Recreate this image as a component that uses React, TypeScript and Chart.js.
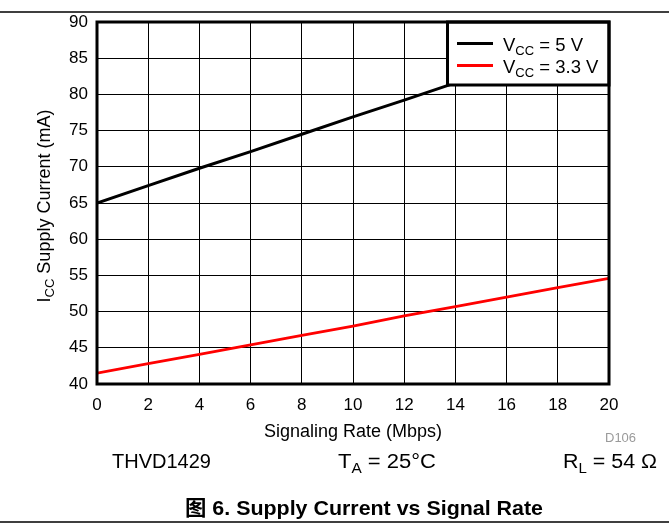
import React, { useEffect, useRef } from "react";
import { Chart, registerables } from "chart.js";
Chart.register(...registerables);

// ---- data ----
const rates = [0, 2, 4, 6, 8, 10, 12, 14, 16, 18, 20];
const vcc5 = [65.0, 67.4, 69.8, 72.1, 74.5, 76.9, 79.2, 81.6, 83.9, 86.2, 88.6];
const vcc33 = [41.5, 42.8, 44.1, 45.4, 46.7, 48.0, 49.4, 50.7, 52.0, 53.3, 54.6];
const xTicks = [0, 2, 4, 6, 8, 10, 12, 14, 16, 18, 20];
const yTicks = [40, 45, 50, 55, 60, 65, 70, 75, 80, 85, 90];
const seriesLabels = ["VCC = 5 V", "VCC = 3.3 V"];

const FONT = '"Liberation Sans", Arial, "Noto Sans CJK SC", sans-serif';

type Seg = { t: string; sub?: boolean };

function fontFor(size: number, sub: boolean, bold: boolean) {
  const s = sub ? Math.round(size * 0.72) : size;
  return `${bold ? "bold " : ""}${s}px ${FONT}`;
}

function richWidth(ctx: CanvasRenderingContext2D, segs: Seg[], size: number, bold: boolean) {
  let w = 0;
  for (const s of segs) {
    ctx.font = fontFor(size, !!s.sub, bold);
    w += ctx.measureText(s.t).width;
  }
  return w;
}

function drawRich(
  ctx: CanvasRenderingContext2D,
  segs: Seg[],
  x: number,
  y: number,
  size: number,
  opts: { bold?: boolean; align?: "left" | "center"; fit?: number; color?: string } = {}
) {
  const bold = !!opts.bold;
  ctx.save();
  const w = richWidth(ctx, segs, size, bold);
  const sx = opts.fit ? opts.fit / w : 1;
  ctx.translate(x, y);
  ctx.scale(sx, 1);
  ctx.fillStyle = opts.color || "#000";
  ctx.textBaseline = "alphabetic";
  ctx.textAlign = "left";
  let cx = opts.align === "center" ? -w / 2 : 0;
  for (const s of segs) {
    ctx.font = fontFor(size, !!s.sub, bold);
    ctx.fillText(s.t, cx, s.sub ? size * 0.24 : 0);
    cx += ctx.measureText(s.t).width;
  }
  ctx.restore();
}

function labelSegs(label: string): Seg[] {
  return [{ t: "V" }, { t: "CC", sub: true }, { t: label.slice(3) }];
}

const decorPlugin = {
  id: "decor",
  afterDraw(chart: any) {
    const ctx: CanvasRenderingContext2D = chart.ctx;
    const a = chart.chartArea;
    ctx.save();

    // legend box (opaque)
    const lx = 447.5;
    const ly = a.top;
    const lw = a.right - lx;
    const lh = 63;
    ctx.fillStyle = "#fff";
    ctx.fillRect(lx, ly, lw, lh);
    chart.data.datasets.forEach((ds: any, i: number) => {
      const yy = 43.5 + i * 22;
      ctx.strokeStyle = ds.borderColor;
      ctx.lineWidth = 3;
      ctx.beginPath();
      ctx.moveTo(457, yy);
      ctx.lineTo(493, yy);
      ctx.stroke();
      drawRich(ctx, labelSegs(ds.label), 503, yy + 7.5, 18.5);
    });
    ctx.strokeStyle = "#000";
    ctx.lineWidth = 3;
    ctx.strokeRect(lx, ly, lw, lh);

    // plot frame
    ctx.strokeRect(a.left, a.top, a.right - a.left, a.bottom - a.top);

    // page rules
    ctx.lineWidth = 1.5;
    ctx.beginPath();
    ctx.moveTo(0, 12);
    ctx.lineTo(669, 12);
    ctx.moveTo(0, 522);
    ctx.lineTo(669, 522);
    ctx.stroke();

    // y title
    ctx.save();
    ctx.translate(50, 206);
    ctx.rotate(-Math.PI / 2);
    drawRich(ctx, [{ t: "I" }, { t: "CC", sub: true }, { t: " Supply Current (mA)" }], 0, 0, 18, { align: "center" });
    ctx.restore();

    // x title
    drawRich(ctx, [{ t: "Signaling Rate (Mbps)" }], 353, 436.5, 18, { align: "center" });

    // D106
    drawRich(ctx, [{ t: "D106" }], 605, 442, 13, { color: "#9a9a9a" });

    // conditions
    drawRich(ctx, [{ t: "THVD1429" }], 112, 468, 20, { fit: 99 });
    drawRich(ctx, [{ t: "T" }, { t: "A", sub: true }, { t: " = 25°C" }], 338, 468, 20, { fit: 98 });
    drawRich(ctx, [{ t: "R" }, { t: "L", sub: true }, { t: " = 54 Ω" }], 563, 468, 20, { fit: 94 });

    // caption
    drawRich(ctx, [{ t: "图 6. Supply Current vs Signal Rate" }], 185, 515, 21, { bold: true, fit: 358 });

    ctx.restore();
  },
};

export default function App() {
  const ref = useRef<HTMLCanvasElement | null>(null);
  useEffect(() => {
    if (!ref.current) return;
    const chart = new Chart(ref.current, {
      type: "line",
      data: {
        datasets: [
          {
            label: seriesLabels[0],
            data: rates.map((x, i) => ({ x, y: vcc5[i] })),
            borderColor: "#000000",
            borderWidth: 3,
            pointRadius: 0,
            tension: 0,
          },
          {
            label: seriesLabels[1],
            data: rates.map((x, i) => ({ x, y: vcc33[i] })),
            borderColor: "#ff0000",
            borderWidth: 2.8,
            pointRadius: 0,
            tension: 0,
          },
        ],
      },
      options: {
        responsive: false,
        animation: false,
        devicePixelRatio: 1,
        layout: { padding: { left: 0, top: 22, right: 60, bottom: 0 } },
        plugins: { legend: { display: false }, tooltip: { enabled: false }, title: { display: false } },
        scales: {
          x: {
            type: "linear",
            min: 0,
            max: 20,
            afterBuildTicks: (s: any) => {
              s.ticks = xTicks.map((v) => ({ value: v }));
            },
            afterFit: (s: any) => {
              s.height = 145;
            },
            grid: { color: "#000", lineWidth: 1, drawTicks: false },
            border: { display: false },
            ticks: {
              color: "#000",
              padding: 11,
              maxRotation: 0,
              autoSkip: false,
              font: { family: FONT, size: 17 },
            },
          },
          y: {
            type: "linear",
            min: 40,
            max: 90,
            afterBuildTicks: (s: any) => {
              s.ticks = yTicks.map((v) => ({ value: v }));
            },
            afterFit: (s: any) => {
              s.width = 97;
            },
            grid: { color: "#000", lineWidth: 1, drawTicks: false },
            border: { display: false },
            ticks: {
              color: "#000",
              padding: 9,
              autoSkip: false,
              font: { family: FONT, size: 17 },
            },
          },
        },
      },
      plugins: [decorPlugin],
    } as any);
    return () => chart.destroy();
  }, []);
  return (
    <div style={{ position: "absolute", left: 0, top: 0, width: 669, height: 529, background: "#fff" }}>
      <canvas ref={ref} width={669} height={529} style={{ width: 669, height: 529, display: "block" }} />
    </div>
  );
}
